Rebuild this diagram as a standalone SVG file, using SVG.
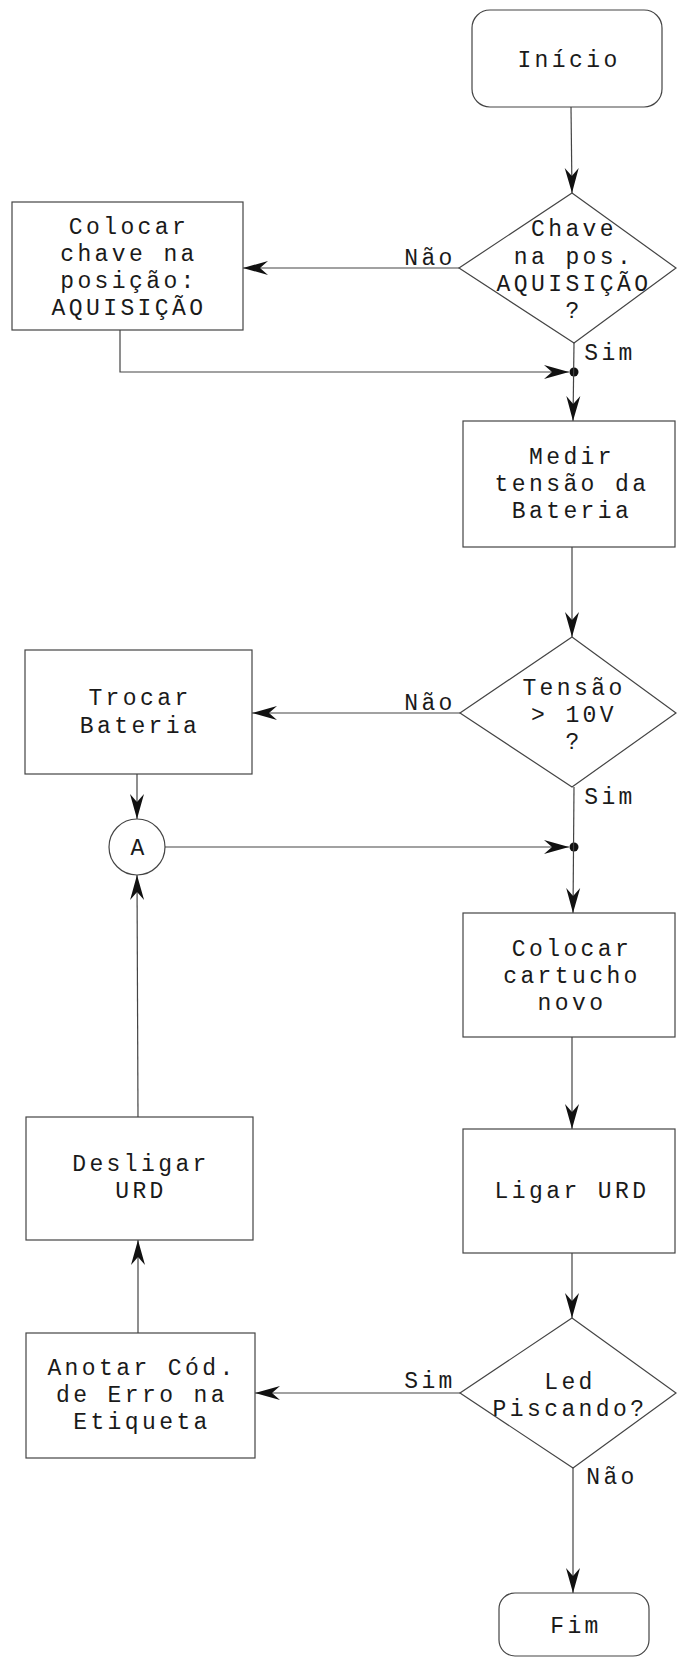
<svg xmlns="http://www.w3.org/2000/svg" width="677" height="1662" viewBox="0 0 677 1662">
<defs>
<style>
.shape{fill:none;stroke:#444;stroke-width:1.2}
.conn{fill:none;stroke:#444;stroke-width:1.2}
.t{font-family:"Liberation Mono","Courier New",monospace;font-size:23px;letter-spacing:3.4px;fill:#1a1a1a;text-anchor:middle}
.lbl{font-family:"Liberation Mono","Courier New",monospace;font-size:23px;letter-spacing:3.4px;fill:#1a1a1a;text-anchor:middle}
</style>
<marker id="arr" viewBox="-26 -8 27 16" refX="0" refY="0" markerWidth="27" markerHeight="16" markerUnits="userSpaceOnUse" orient="auto">
<path d="M0,0 L-25,-7 L-17,0 L-25,7 Z" fill="#111"/>
</marker>
</defs>
<rect width="677" height="1662" fill="#fff"/>

<g id="connectors">
<line class="conn" x1="571" y1="107" x2="572" y2="193" marker-end="url(#arr)"/>
<line class="conn" x1="459" y1="268" x2="243" y2="268" marker-end="url(#arr)"/>
<polyline class="conn" points="120,330 120,372 569,372" marker-end="url(#arr)"/>
<circle cx="574" cy="372" r="4.5" fill="#111"/>
<line class="conn" x1="574" y1="343" x2="573" y2="421" marker-end="url(#arr)"/>
<line class="conn" x1="572" y1="547" x2="572" y2="637" marker-end="url(#arr)"/>
<line class="conn" x1="460" y1="713" x2="252" y2="713" marker-end="url(#arr)"/>
<line class="conn" x1="137" y1="774" x2="137" y2="819" marker-end="url(#arr)"/>
<line class="conn" x1="165" y1="847" x2="569" y2="847" marker-end="url(#arr)"/>
<circle cx="574" cy="847" r="4.5" fill="#111"/>
<line class="conn" x1="574" y1="787" x2="573" y2="913" marker-end="url(#arr)"/>
<line class="conn" x1="572" y1="1037" x2="572" y2="1129" marker-end="url(#arr)"/>
<line class="conn" x1="572" y1="1253" x2="572" y2="1318" marker-end="url(#arr)"/>
<line class="conn" x1="460" y1="1393" x2="255" y2="1393" marker-end="url(#arr)"/>
<line class="conn" x1="573" y1="1468" x2="573" y2="1593" marker-end="url(#arr)"/>
<line class="conn" x1="138" y1="1333" x2="138" y2="1240" marker-end="url(#arr)"/>
<line class="conn" x1="138" y1="1117" x2="137" y2="875" marker-end="url(#arr)"/>
<text class="lbl" x="430" y="265">Não</text>
<text class="lbl" x="610" y="360">Sim</text>
<text class="lbl" x="430" y="710">Não</text>
<text class="lbl" x="610" y="804">Sim</text>
<text class="lbl" x="430" y="1388">Sim</text>
<text class="lbl" x="612" y="1484">Não</text>
</g>

<g id="inicio">
<rect class="shape" x="472" y="10" width="190" height="97" rx="18"/>
<text class="t" x="569" y="67">Início</text>
</g>

<g id="decisao-chave">
<polygon class="shape" points="572,193 676,268 574,343 459,268"/>
<text class="t" x="574" y="236">Chave</text>
<text class="t" x="574" y="264">na pos.</text>
<text class="t" x="574" y="291">AQUISIÇÃO</text>
<text class="t" x="574" y="318">?</text>
</g>

<g id="colocar-chave">
<rect class="shape" x="12" y="202" width="231" height="128"/>
<text class="t" x="129" y="234">Colocar</text>
<text class="t" x="129" y="261">chave na</text>
<text class="t" x="129" y="288">posição:</text>
<text class="t" x="129" y="315">AQUISIÇÃO</text>
</g>

<g id="medir-tensao">
<rect class="shape" x="463" y="421" width="212" height="126"/>
<text class="t" x="572" y="464">Medir</text>
<text class="t" x="572" y="491">tensão da</text>
<text class="t" x="572" y="518">Bateria</text>
</g>

<g id="decisao-tensao">
<polygon class="shape" points="572,637 676,713 572,787 460,713"/>
<text class="t" x="574" y="695">Tensão</text>
<text class="t" x="574" y="722">&gt; 10V</text>
<text class="t" x="574" y="749">?</text>
</g>

<g id="trocar-bateria">
<rect class="shape" x="25" y="650" width="227" height="124"/>
<text class="t" x="140" y="705">Trocar</text>
<text class="t" x="140" y="733">Bateria</text>
</g>

<g id="conector-a">
<circle class="shape" cx="137" cy="847" r="28"/>
<text class="t" x="139" y="855">A</text>
</g>

<g id="colocar-cartucho">
<rect class="shape" x="463" y="913" width="212" height="124"/>
<text class="t" x="572" y="956">Colocar</text>
<text class="t" x="572" y="983">cartucho</text>
<text class="t" x="572" y="1010">novo</text>
</g>

<g id="ligar-urd">
<rect class="shape" x="463" y="1129" width="212" height="124"/>
<text class="t" x="572" y="1198">Ligar URD</text>
</g>

<g id="decisao-led">
<polygon class="shape" points="572,1318 676,1393 573,1468 460,1393"/>
<text class="t" x="570" y="1389">Led</text>
<text class="t" x="570" y="1416">Piscando?</text>
</g>

<g id="desligar-urd">
<rect class="shape" x="26" y="1117" width="227" height="123"/>
<text class="t" x="141" y="1171">Desligar</text>
<text class="t" x="141" y="1198">URD</text>
</g>

<g id="anotar-codigo">
<rect class="shape" x="26" y="1333" width="229" height="125"/>
<text class="t" x="142" y="1375">Anotar Cód.</text>
<text class="t" x="142" y="1402">de Erro na</text>
<text class="t" x="142" y="1429">Etiqueta</text>
</g>

<g id="fim">
<rect class="shape" x="499" y="1593" width="150" height="63" rx="16"/>
<text class="t" x="576" y="1633">Fim</text>
</g>
</svg>
